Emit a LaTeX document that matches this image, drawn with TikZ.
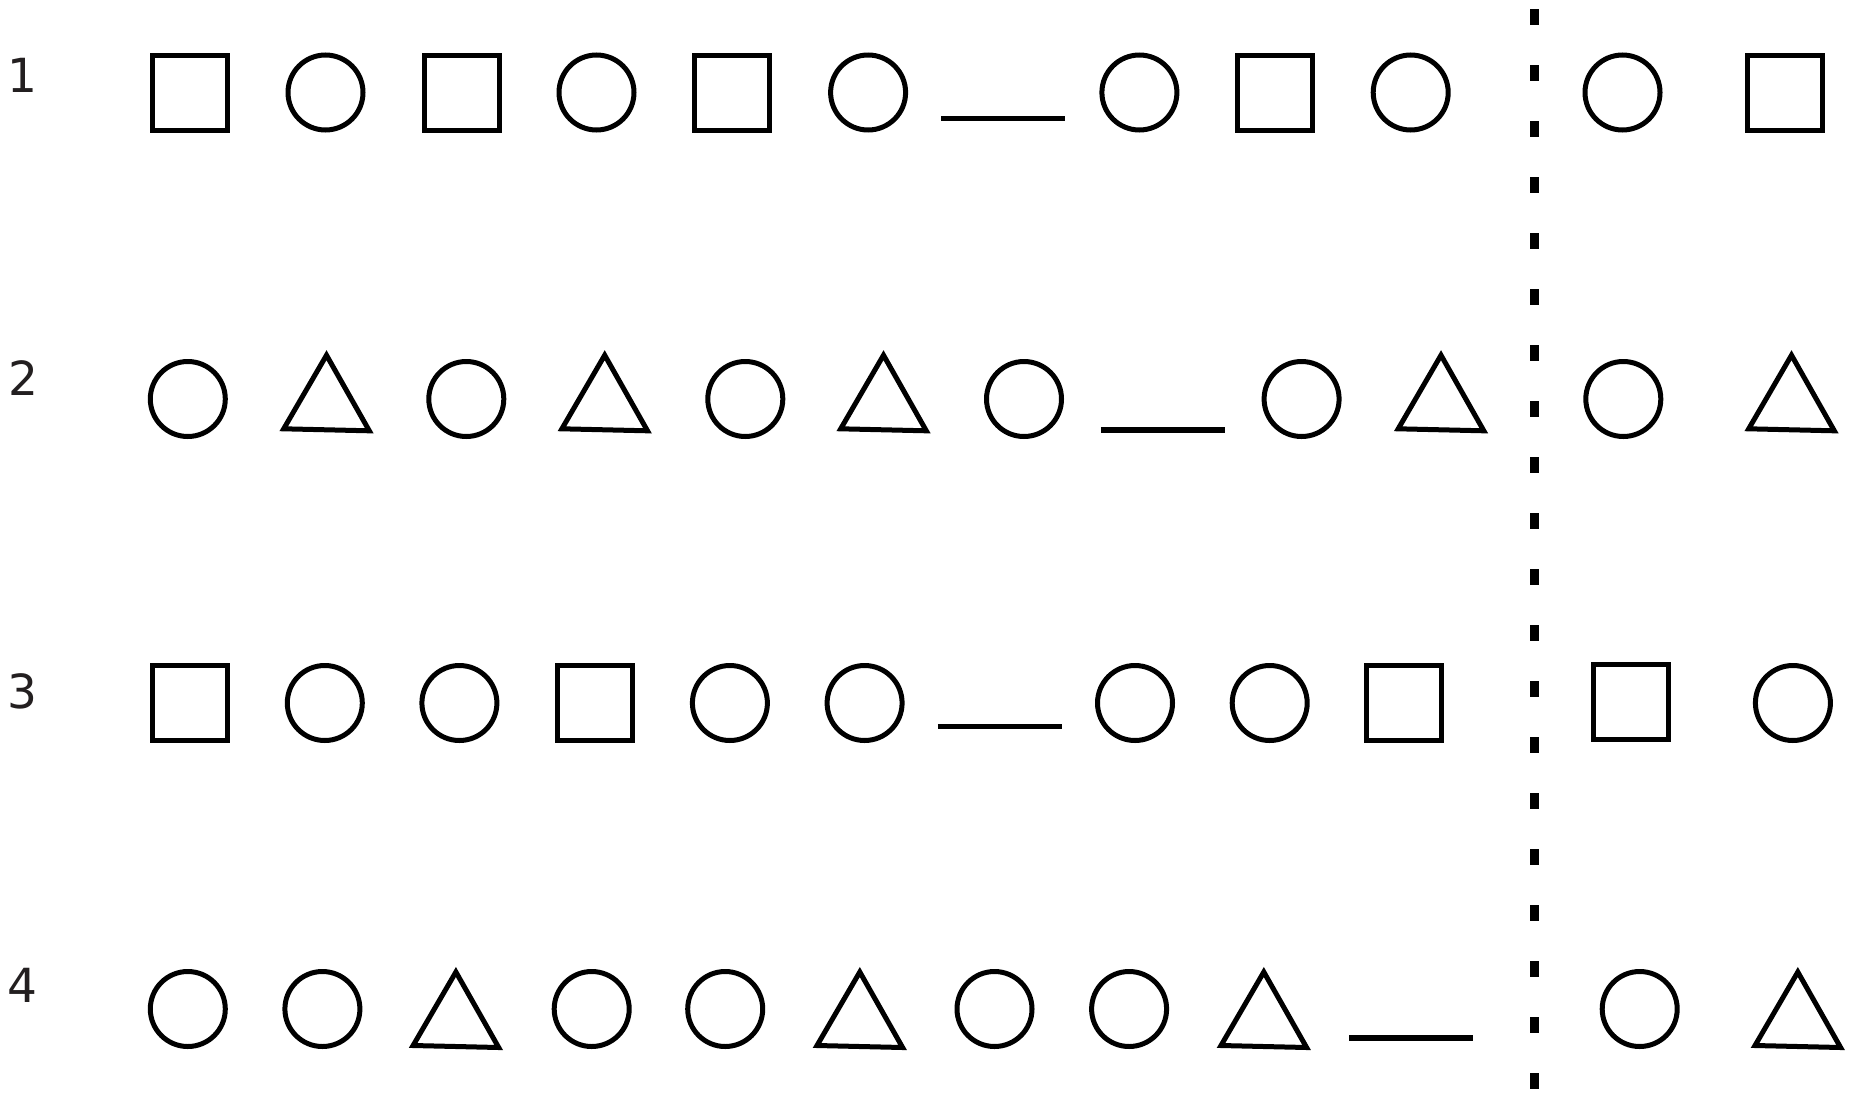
\documentclass[tikz,border=0pt]{standalone}
\usepackage{fontspec}
\setmainfont{DejaVu Sans}
\definecolor{labelgray}{HTML}{231F20}
\newcommand\drawtri[4]{% name, cx, apex y, base y
  \coordinate (#1) at (#2,{(#3+#4)/2});
  \draw[shp] (#2,#3) -- ({#2-42.8},{#4-1}) -- ({#2+42.8},{#4+1}) -- cycle;}
\begin{document}
\begin{tikzpicture}[x=1pt,y=-1pt,
  shp/.style={draw=black, line width=5pt, line join=miter},
  circ/.style={shp, circle, minimum size=75pt, inner sep=0pt, outer sep=0pt},
  sq/.style={shp, rectangle, minimum size=75pt, inner sep=0pt, outer sep=0pt},
  bar/.style={draw=black, line width=5.5pt},
  divider/.style={draw=black, line width=8.6pt, dash pattern=on 16pt off 40pt},
  lbl/.style={text=labelgray, font=\fontsize{47}{56}\selectfont, inner sep=0pt}]
\useasboundingbox (0,0) rectangle (1852,1092);

% labels
\node[lbl] (l1) at (22,75.5) {1};
\node[lbl] (l2) at (23,378.5) {2};
\node[lbl] (l3) at (22,691) {3};
\node[lbl] (l4) at (22,985) {4};

% divider
\coordinate (dtop) at (1534.3,9.3);
\coordinate (dbot) at (1534.3,1092);
\draw[divider] (dtop) -- (dbot);

% row 1
\node[sq]   (a1) at (190.1,92.5) {};
\node[circ] (a2) at (325.5,92.5) {};
\node[sq]   (a3) at (461.5,92.5) {};
\node[circ] (a4) at (596.5,92.5) {};
\node[sq]   (a5) at (732.3,92.5) {};
\node[circ] (a6) at (868.1,92.5) {};
\coordinate (ab1) at (941.3,118.5);
\coordinate (ab2) at (1065,118.5);
\draw[bar] (ab1) -- (ab2);
\node[circ] (a7) at (1139.4,92.5) {};
\node[sq]   (a8) at (1275,92.5) {};
\node[circ] (a9) at (1410.7,92.5) {};
\node[circ] (a10) at (1622.5,92.5) {};
\node[sq]   (a11) at (1784.5,92.5) {};

% row 2
\node[circ] (b1) at (187.8,399) {};
\drawtri{b2}{326.5}{355.2}{429.8}
\node[circ] (b3) at (466.3,399) {};
\drawtri{b4}{604.7}{355.2}{429.8}
\node[circ] (b5) at (745.3,399) {};
\drawtri{b6}{883.5}{355.2}{429.8}
\node[circ] (b7) at (1024,399) {};
\coordinate (bb1) at (1100.8,429.9);
\coordinate (bb2) at (1224.8,429.9);
\draw[bar] (bb1) -- (bb2);
\node[circ] (b8) at (1301.6,399) {};
\drawtri{b9}{1441}{355.2}{429.8}
\node[circ] (b10) at (1623.3,399) {};
\drawtri{b11}{1791.5}{355.2}{429.8}

% row 3
\node[sq]   (c1) at (190.2,703) {};
\node[circ] (c2) at (324.8,703) {};
\node[circ] (c3) at (459.4,703) {};
\node[sq]   (c4) at (595.3,703) {};
\node[circ] (c5) at (729.9,703) {};
\node[circ] (c6) at (864.6,703) {};
\coordinate (cb1) at (937.8,726.4);
\coordinate (cb2) at (1061.8,726.4);
\draw[bar] (cb1) -- (cb2);
\node[circ] (c7) at (1135,703) {};
\node[circ] (c8) at (1269.7,703) {};
\node[sq]   (c9) at (1404.3,703) {};
\node[sq]   (c10) at (1631.1,701.6) {};
\node[circ] (c11) at (1792.9,703) {};

% row 4
\node[circ] (d1) at (187.8,1009) {};
\node[circ] (d2) at (322.4,1009) {};
\drawtri{d3}{455.9}{972}{1046.5}
\node[circ] (d4) at (591.7,1009) {};
\node[circ] (d5) at (725.2,1009) {};
\drawtri{d6}{859.8}{972}{1046.5}
\node[circ] (d7) at (994.5,1009) {};
\node[circ] (d8) at (1129.1,1009) {};
\drawtri{d9}{1263.8}{972}{1046.5}
\coordinate (db1) at (1349,1037.8);
\coordinate (db2) at (1473,1037.8);
\draw[bar] (db1) -- (db2);
\node[circ] (d10) at (1639.7,1009) {};
\drawtri{d11}{1797.8}{972}{1046.5}
\end{tikzpicture}
\end{document}
